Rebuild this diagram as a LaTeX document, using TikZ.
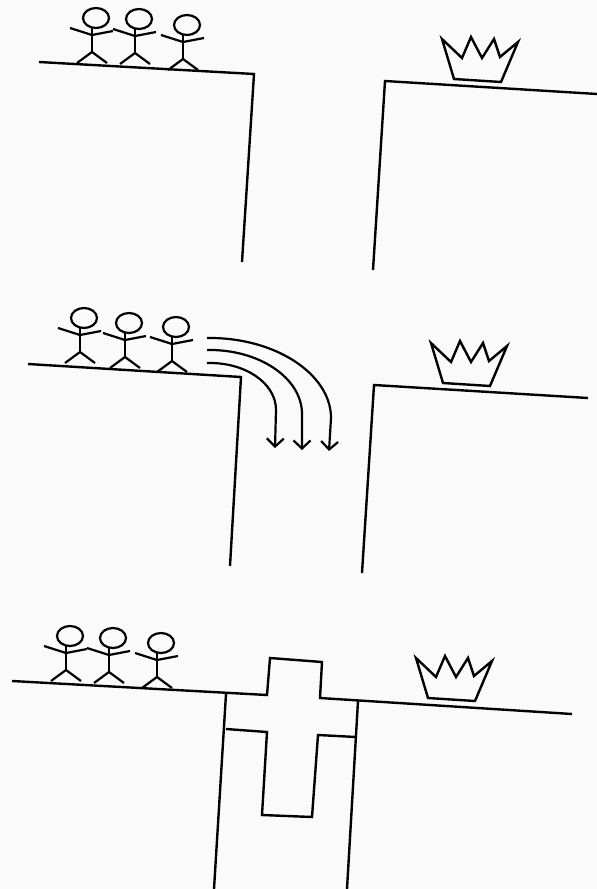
\documentclass[tikz,border=0pt]{standalone}
\usetikzlibrary{arrows.meta}
\begin{document}
\begin{tikzpicture}[x=1pt,y=-1pt,
  ink/.style={line width=2.4pt, line join=miter},
  limb/.style={line width=2.2pt},
  fall/.style={line width=2.2pt, -{Straight Barb[length=8pt,width=17pt,line width=2.2pt]}},
  stickman/.pic={
    \draw[limb] (4,-34) ellipse [x radius=13pt, y radius=10pt];
    \draw[limb] (0,-24) -- (0,0);
    \draw[limb] (-15,11) -- (0,0) -- (15,11);
    \draw[limb] (-22,-24) -- (0,-17) -- (21,-21);
  },
  crown/.pic={
    \draw[ink] (-35,-41) -- (-15,-22) -- (-6,-43) -- (5,-22) -- (17,-41)
      -- (23,-23) -- (41,-38) -- (24,2) -- (-23,-1) -- cycle;
  }]
\useasboundingbox (0,0) rectangle (597,889);
\fill[white!98!black] (0,0) rectangle (597,889);

% ---------- first row: the gap ----------
\draw[ink] (39,62) -- (254,74) -- (242,262);
\draw[ink] (597,94) -- (385,81) -- (373,270);
\pic at (92,52) {stickman};
\pic at (135,53) {stickman};
\pic at (183,59) {stickman};
\pic at (477,80) {crown};

% ---------- second row: falling short ----------
\draw[ink] (28,364) -- (241,377) -- (230,566);
\draw[ink] (588,398) -- (374,385) -- (362,573);
\pic at (80,352) {stickman};
\pic at (125,357) {stickman};
\pic at (172,361) {stickman};
\pic at (466,384) {crown};

\coordinate (jumpA) at (207,338);
\coordinate (jumpB) at (207,350);
\coordinate (jumpC) at (207,363);
\coordinate (landA) at (329,451);
\coordinate (landB) at (302,450);
\coordinate (landC) at (275,448);
\draw[fall] (jumpA) .. controls (275,337) and (331,374) .. (331,418) -- (landA);
\draw[fall] (jumpB) .. controls (259,349) and (302,378) .. (302,414) -- (landB);
\draw[fall] (jumpC) .. controls (245,362) and (276,383) .. (276,410) -- (landC);

% ---------- third row: the cross as a bridge ----------
\draw[ink] (12,681) -- (267,695) -- (270,658) -- (322,662) -- (320,698) -- (572,714);
\draw[ink] (226,694) -- (214,889);
\draw[ink] (358,701) -- (347,889);
\draw[ink] (226,729) -- (267,732) -- (262,815) -- (312,817) -- (318,735) -- (356,737);
\pic at (66,670) {stickman};
\pic at (109,672) {stickman};
\pic at (157,677) {stickman};
\pic at (451,699) {crown};
\end{tikzpicture}
\end{document}
